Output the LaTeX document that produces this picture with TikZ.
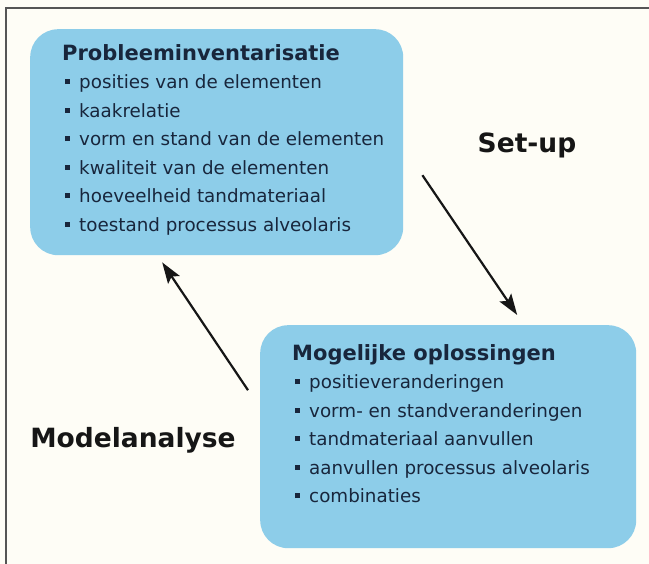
\documentclass[tikz,border=0pt]{standalone}
\usepackage{fontspec}
\setmainfont{DejaVu Sans}
\usepackage{xcolor}
\usetikzlibrary{arrows.meta,positioning}
\definecolor{paper}{RGB}{254,253,246}
\definecolor{panelblue}{RGB}{141,205,233}
\definecolor{inktext}{RGB}{24,38,60}
\definecolor{framegray}{RGB}{85,85,85}
\definecolor{darkink}{RGB}{22,22,22}
\newcommand{\bul}{\hspace*{3pt}\rule[4.5pt]{5pt}{5pt}\hspace{9pt}}
\newcommand{\ttl}[1]{{\bfseries\fontsize{21}{28.5}\selectfont #1}}

\begin{document}
\begin{tikzpicture}[x=1pt,y=-1pt,
  panel/.style={fill=panelblue,rounded corners=28pt,inner sep=0pt},
  panetext/.style={align=left,inner sep=0pt,text=inktext,
                   font=\fontsize{18.3}{28.5}\selectfont},
  phase/.style={font=\bfseries\fontsize{26.5}{30}\selectfont,text=darkink,inner sep=0pt},
  arrow/.style={-{Stealth[length=21pt,width=14pt,inset=4pt]},line width=2.2pt,color=darkink}
]
\useasboundingbox (0,0) rectangle (649,564);
\fill[paper] (0,0) rectangle (649,564);
\draw[framegray,line width=2.2pt] (6,564) -- (6,8) -- (649,8);

\node[panel,minimum width=373pt,minimum height=226pt,anchor=north west] (prob) at (30,29) {};
\node[panel,minimum width=376pt,minimum height=223pt,anchor=north west] (sol)  at (260,325) {};

\node[panetext,below right=15pt and 32pt of prob.north west] (probtxt) {%
\ttl{Probleeminventarisatie}\\
\bul posities van de elementen\\
\bul kaakrelatie\\
\bul vorm en stand van de elementen\\
\bul kwaliteit van de elementen\\
\bul hoeveelheid tandmateriaal\\
\bul toestand processus alveolaris};

\node[panetext,below right=19pt and 32pt of sol.north west] (soltxt) {%
\ttl{Mogelijke oplossingen}\\
\bul positieveranderingen\\
\bul vorm- en standveranderingen\\
\bul tandmateriaal aanvullen\\
\bul aanvullen processus alveolaris\\
\bul combinaties};

\node[phase,anchor=base] (setup) at (527,153) {Set-up};
\node[phase,anchor=base] (model) at (133,448) {Modelanalyse};

\draw[arrow] ([shift={(19,33)}]prob.east) -- ([shift={(69,-10)}]sol.north);
\draw[arrow] ([shift={(-12,-46.5)}]sol.west) -- ([shift={(-54.5,7)}]prob.south);
\end{tikzpicture}
\end{document}
